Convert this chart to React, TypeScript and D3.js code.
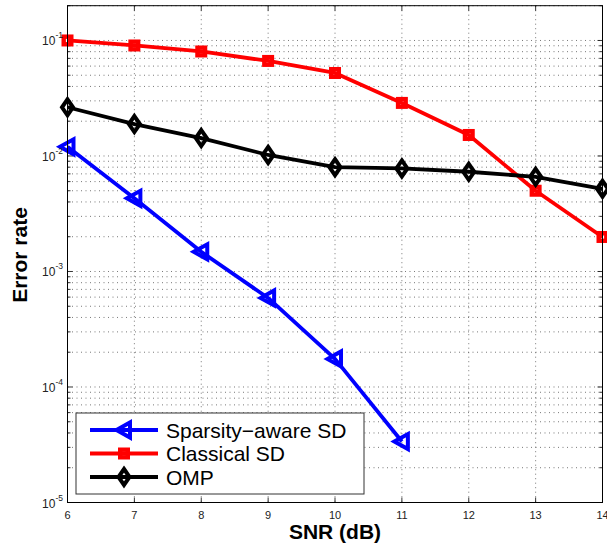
import React from "react";
import * as d3 from "d3";

const snr = [6, 7, 8, 9, 10, 11, 12, 13, 14];
const sparsityAware = [0.012, 0.0043, 0.00148, 0.00059, 0.000175, 0.0000337];
const classicalSD = [0.1, 0.0905, 0.0803, 0.0665, 0.0523, 0.0288, 0.0152, 0.005, 0.00199];
const omp = [0.0264, 0.0189, 0.0143, 0.0102, 0.008, 0.0078, 0.0073, 0.0066, 0.0052];
const xTicks = [6, 7, 8, 9, 10, 11, 12, 13, 14];
const yExponents = [-5, -4, -3, -2, -1];
const seriesNames = ["Sparsity\u2212aware SD", "Classical SD", "OMP"];
const seriesColors = ["#0000ff", "#ff0000", "#000000"];

const W = 607;
const H = 548;
const L = 67.5, R = 602.5, T = 5.7, B = 502.5;
const font = "'Liberation Sans', Arial, Helvetica, sans-serif";

function marker(kind: string, x: number, y: number, color: string, key: string) {
  if (kind === "tri") {
    const p = `M${x - 7.5},${y} L${x + 6},${y - 7.5} L${x + 6},${y + 7.5} Z`;
    return <path key={key} d={p} fill="none" stroke={color} strokeWidth={4} strokeLinejoin="miter" />;
  }
  if (kind === "sq") {
    return <rect key={key} x={x - 3.8} y={y - 3.8} width={7.6} height={7.6} fill="none" stroke={color} strokeWidth={4.4} />;
  }
  const p = `M${x},${y - 8} L${x + 5.5},${y} L${x},${y + 8} L${x - 5.5},${y} Z`;
  return <path key={key} d={p} fill="none" stroke={color} strokeWidth={4} />;
}

export default function App() {
  const x = d3.scaleLinear().domain([6, 14]).range([L, R]);
  const y = d3.scaleLog().domain([1e-5, 0.2]).range([B, T]);
  const line = d3
    .line<number>()
    .x((_, i) => x(snr[i]))
    .y((d) => y(d));

  const minor: number[] = [];
  for (const e of yExponents) {
    for (let m = 1; m <= 9; m++) {
      const v = m * Math.pow(10, e);
      if (v <= 0.2 + 1e-9) minor.push(v);
    }
  }
  const series = [sparsityAware, classicalSD, omp];
  const kinds = ["tri", "sq", "dia"];

  return (
    <svg width={W} height={H} style={{ position: "absolute", left: 0, top: 0, background: "#fff" }}>
      <rect x={0} y={0} width={W} height={H} fill="#fff" />
      {/* grid */}
      <g stroke="#555" strokeWidth={0.8} strokeDasharray="1,3.5">
        {minor.map((v, i) => (
          <line key={"gy" + i} x1={L} x2={R} y1={y(v)} y2={y(v)} />
        ))}
        {xTicks.map((t, i) => (
          <line key={"gx" + i} x1={x(t)} x2={x(t)} y1={T} y2={B} />
        ))}
      </g>
      {/* ticks */}
      <g stroke="#000" strokeWidth={0.8}>
        {minor.map((v, i) => {
          const major = Math.abs(Math.log10(v) - Math.round(Math.log10(v))) < 1e-6;
          const len = major ? 5 : 3;
          return (
            <g key={"ty" + i}>
              <line x1={L} x2={L + len} y1={y(v)} y2={y(v)} />
              <line x1={R} x2={R - len} y1={y(v)} y2={y(v)} />
            </g>
          );
        })}
        {xTicks.map((t, i) => (
          <g key={"tx" + i}>
            <line x1={x(t)} x2={x(t)} y1={B} y2={B - 5} />
            <line x1={x(t)} x2={x(t)} y1={T} y2={T + 5} />
          </g>
        ))}
      </g>
      {/* series */}
      {series.map((s, si) => (
        <g key={"s" + si}>
          <path d={line(s) || ""} fill="none" stroke={seriesColors[si]} strokeWidth={3.8} strokeLinejoin="round" />
          {s.map((v, i) => marker(kinds[si], x(snr[i]), y(v), seriesColors[si], `m${si}-${i}`))}
        </g>
      ))}
      {/* box */}
      <rect x={L} y={T} width={R - L} height={B - T} fill="none" stroke="#000" strokeWidth={1} />
      {/* y tick labels */}
      {yExponents.map((e) => (
        <text key={"yl" + e} x={63} y={y(Math.pow(10, e)) + 5} textAnchor="end" fontFamily={font} fontSize={12} fill="#222">
          10
          <tspan dy={-7} fontSize={8.5}>{"-" + Math.abs(e)}</tspan>
        </text>
      ))}
      {/* x tick labels */}
      {xTicks.map((t) => (
        <text key={"xl" + t} x={x(t)} y={519} textAnchor="middle" fontFamily={font} fontSize={11} fill="#222">
          {t}
        </text>
      ))}
      {/* axis labels */}
      <text x={335} y={539} textAnchor="middle" fontFamily={font} fontSize={21} fontWeight="bold" fill="#000">
        SNR (dB)
      </text>
      <text transform="translate(27,255) rotate(-90)" textAnchor="middle" fontFamily={font} fontSize={21} fontWeight="bold" fill="#000">
        Error rate
      </text>
      {/* legend */}
      <rect x={76} y={413} width={288} height={81} fill="#fff" stroke="#333" strokeWidth={1} />
      {seriesNames.map((n, i) => {
        const ly = 430 + i * 23.5;
        return (
          <g key={"lg" + i}>
            <line x1={90} x2={158} y1={ly} y2={ly} stroke={seriesColors[i]} strokeWidth={3.8} />
            {marker(kinds[i], 124, ly, seriesColors[i], "lm" + i)}
            <text x={166} y={ly + 7.5} fontFamily={font} fontSize={21} fill="#000">
              {n}
            </text>
          </g>
        );
      })}
    </svg>
  );
}
